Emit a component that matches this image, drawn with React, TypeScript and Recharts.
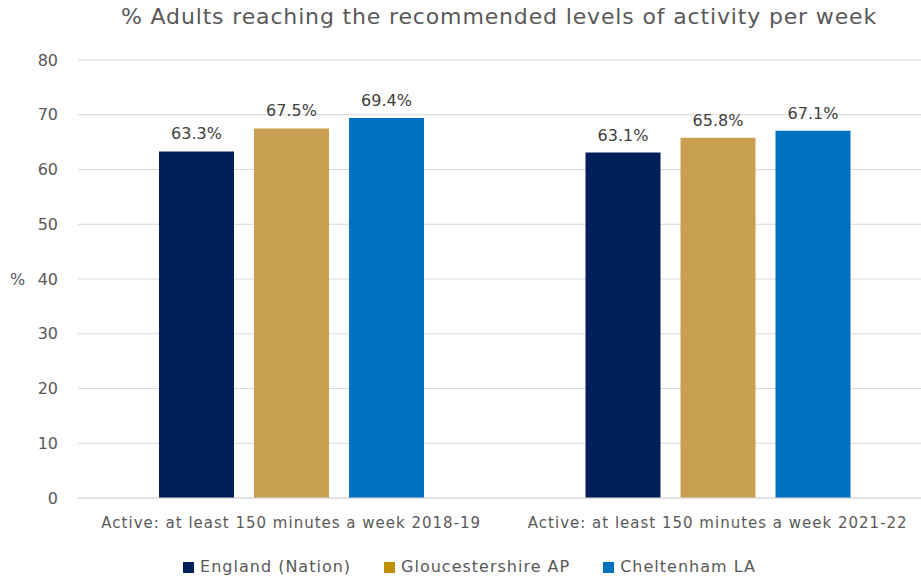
import React from "react";
import { BarChart, Bar, XAxis, YAxis, CartesianGrid, Legend, LabelList } from "recharts";

const categories = [
    "Active: at least 150 minutes a week 2018-19",
    "Active: at least 150 minutes a week 2021-22",
];
const england = [63.3, 63.1];
const gloucestershire = [67.5, 65.8];
const cheltenham = [69.4, 67.1];
const yTicks = [0, 10, 20, 30, 40, 50, 60, 70, 80];

const series = [
    { key: "england", name: "England (Nation)", color: "#00205B", legendColor: "#00205B" },
    { key: "gloucestershire", name: "Gloucestershire AP", color: "#C99F52", legendColor: "#BF8F00" },
    { key: "cheltenham", name: "Cheltenham LA", color: "#0070C0", legendColor: "#0070C0" },
];

const FONT = "'DejaVu Sans', sans-serif";

const data = categories.map((c, i) => ({
    category: c,
    england: england[i],
    gloucestershire: gloucestershire[i],
    cheltenham: cheltenham[i],
}));

// legend drawn by hand so the squares match the original
function renderLegend() {
    return (
        <div style={{ display: "flex", justifyContent: "center", fontFamily: FONT, fontSize: 16, letterSpacing: 1, lineHeight: "22px", color: "#595959", paddingLeft: 8 }}>
            {series.map((s, i) => (
                <div key={s.key} style={{ display: "flex", alignItems: "center", marginRight: i < series.length - 1 ? 33 : 0 }}>
                    <span style={{ width: 11, height: 11, background: s.legendColor, display: "inline-block", marginRight: 6 }} />
                    <span>{s.name}</span>
                </div>
            ))}
        </div>
    );
}

export default function App() {
    return (
        <div style={{ position: "absolute", left: 0, top: 0, width: 921, height: 581, overflow: "hidden", background: "#fff" }}>
            <div style={{ position: "absolute", top: 4, left: 0, width: 921, textAlign: "center", fontFamily: FONT, fontSize: 22, letterSpacing: 0.85, color: "#595959", paddingLeft: 77, boxSizing: "border-box", whiteSpace: "nowrap" }}>
                % Adults reaching the recommended levels of activity per week
            </div>
            <div style={{ position: "absolute", left: 10, top: 270, fontFamily: FONT, fontSize: 16, color: "#595959" }}>%</div>
            <BarChart
                width={931}
                height={581}
                data={data}
                margin={{ top: 60, right: 0, bottom: 3, left: 0 }}
                barSize={75}
                barGap={20}>
                <CartesianGrid
                    vertical={false}
                    stroke="#D9D9D9" />
                <XAxis
                    dataKey="category"
                    axisLine={{ stroke: "#D9D9D9" }}
                    tickLine={false}
                    tickSize={0}
                    tickMargin={19}
                    height={58}
                    interval={0}
                    tick={{ fontFamily: FONT, fontSize: 15, letterSpacing: 1, fill: "#595959" }} />
                <YAxis
                    width={78}
                    domain={[0, 80]}
                    ticks={yTicks}
                    axisLine={false}
                    tickLine={false}
                    tickSize={0}
                    tickMargin={20}
                    tick={{ fontFamily: FONT, fontSize: 16, fill: "#595959" }} />
                <Legend
                    verticalAlign="bottom"
                    content={renderLegend} />
                {series.map(s => (
                    <Bar key={s.key} dataKey={s.key} name={s.name} fill={s.color} isAnimationActive={false}>
                        <LabelList
                            dataKey={s.key}
                            position="top"
                            offset={12}
                            formatter={(v: number) => v.toFixed(1) + "%"}
                            style={{ fontFamily: FONT, fontSize: 16, fill: "#404040" }} />
                    </Bar>
                ))}
            </BarChart>
        </div>
    );
}
